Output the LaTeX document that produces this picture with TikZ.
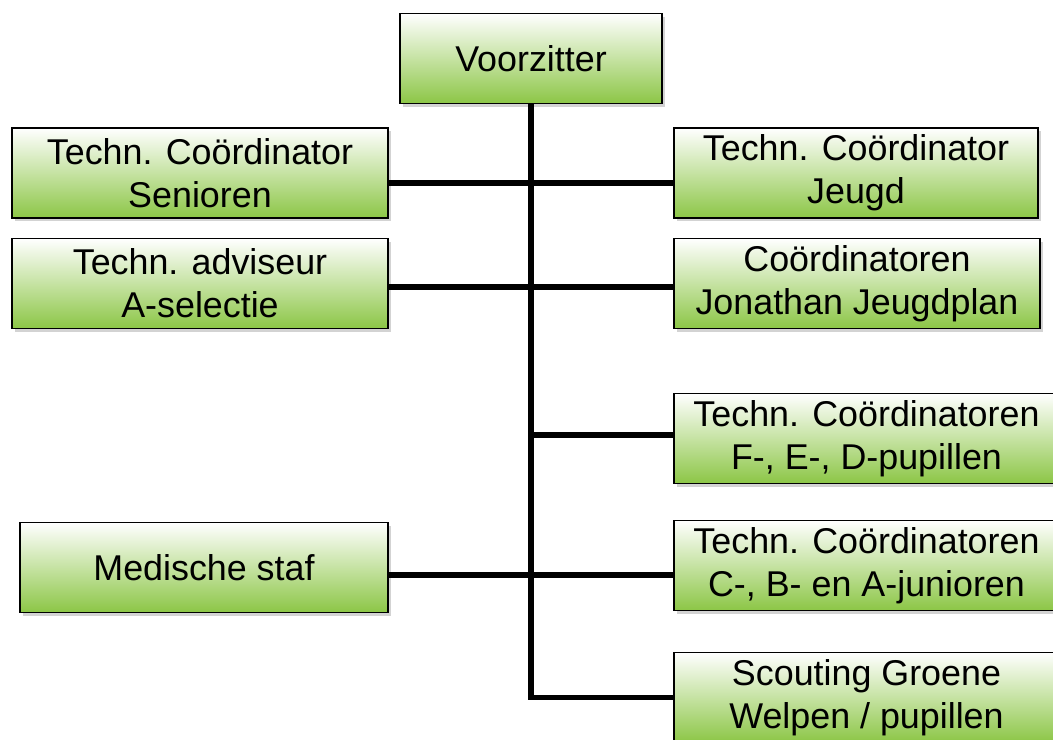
\documentclass[tikz,border=0pt]{standalone}
\usepackage{fontspec}
\setmainfont{Liberation Sans}
\usetikzlibrary{shadows}
\definecolor{boxgreen}{RGB}{140,198,70}

\begin{document}
\begin{tikzpicture}[
    box/.style={draw, line width=0.6pt, top color=white, bottom color=boxgreen,
        minimum height=1.8cm, align=center, inner sep=0pt,
        font=\fontsize{20.4}{24.6}\selectfont,
        drop shadow={shadow xshift=0.6mm, shadow yshift=-0.6mm, opacity=0.35}},
    link/.style={line width=3pt}]
\clip (0,0) rectangle (21.06,-14.8);

% the chairman on top
\node[box, minimum width=5.24cm] (vz) at (10.62,-1.17) {Voorzitter};

% left column
\node[box, minimum width=7.52cm] (sen) at (4.0,-3.46)  {Techn. Coördinator\\Senioren};
\node[box, minimum width=7.52cm] (asel) at (4.0,-5.67) {Techn. adviseur\\A-selectie};
\node[box, minimum width=7.36cm] (med) at (4.08,-11.35) {Medische staf};

% right column
\node[box, minimum width=7.28cm] (jeugd) at (17.12,-3.46) {Techn. Coördinator\\Jeugd};
\node[box, minimum width=7.32cm] (jjp) at (17.14,-5.67)   {Coördinatoren\\Jonathan Jeugdplan};
\node[box, minimum width=7.7cm] (fed) at (17.33,-8.77)    {Techn. Coördinatoren\\F-, E-, D-pupillen};
\node[box, minimum width=7.7cm] (cba) at (17.33,-11.31)   {Techn. Coördinatoren\\C-, B- en A-junioren};
\node[box, minimum width=7.7cm] (scout) at (17.33,-13.95) {Scouting Groene\\Welpen / pupillen};

% the trunk and the branches
\draw[link] (vz.south) |- (scout.west);
\draw[link] ([yshift=-2mm]sen.east) -- ([yshift=-2mm]jeugd.west);
\draw[link] ([yshift=-.7mm]asel.east) -- ([yshift=-.7mm]jjp.west);
\draw[link] ([yshift=.7mm]fed.west) -- ([yshift=.7mm]fed.west -| vz.south);
\draw[link] ([yshift=-1.5mm]med.east) -- ([yshift=-1.5mm]med.east -| cba.west);

\end{tikzpicture}
\end{document}
